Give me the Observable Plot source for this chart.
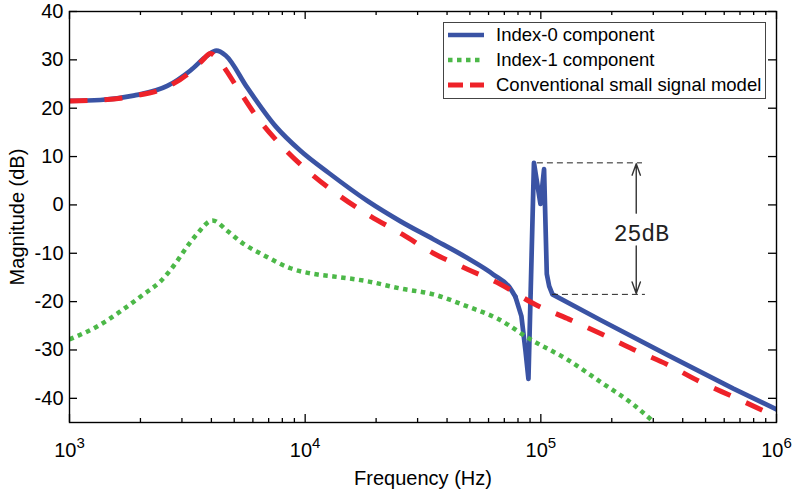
<!DOCTYPE html>
<html><head><meta charset="utf-8">
<script src="https://cdn.jsdelivr.net/npm/d3@7"></script>
<script src="https://cdn.jsdelivr.net/npm/@observablehq/plot@0.6"></script>
<style>
body{margin:0;background:#fff}
svg{font-family:"Liberation Sans",Arial,Helvetica,sans-serif}
</style>
</head><body><div id="chart"></div>
<script>
// ---- data ----
// Index-0 component: smooth part (up to 78 kHz) and resonance / high-frequency part
const idx0Freq = [1000, 1350, 1870, 2600, 3260, 3850, 4200, 4600, 5670, 7480, 9550, 12600, 18400, 25400, 35000, 48800, 62900, 74300, 78000, 82700, 86000, 88600, 93500, 99600, 103200, 106000, 108500, 112000, 179000, 344000, 656000, 1000000];
const idx0Mag  = [21.5, 21.7, 22.6, 24.6, 27.8, 30.9, 31.9, 30.9, 24.3, 16.3, 11.2, 6.6, 0.8, -3.4, -7.1, -11.0, -14.4, -17.3, -19.0, -23.0, -30.0, -36.0, 8.7, 0.2, 7.4, -14.3, -16.8, -18.5, -23.8, -31.0, -38.0, -42.3];
const idx0SmoothEnd = 78000;

const idx1Freq = [1000, 1315, 1646, 2061, 2433, 2817, 3167, 3492, 4043, 4680, 5420, 6790, 8660, 11280, 13200, 18400, 25400, 35000, 48800, 65400, 90300, 129700, 179000, 247000, 303000];
const idx1Mag  = [-27.8, -25.1, -22.0, -18.5, -15.8, -12.1, -8.5, -5.9, -3.2, -5.4, -7.9, -10.6, -13.1, -14.4, -14.8, -15.8, -17.3, -18.5, -21.0, -23.5, -27.8, -32.0, -36.6, -41.3, -45.0];

const convFreq = [1000, 1350, 1870, 2600, 3260, 3650, 3965, 4370, 5160, 6280, 8090, 10500, 13700, 18900, 25900, 35000, 48800, 67400, 93000, 129700, 179000, 247000, 344000, 475000, 656000, 1000000];
const convMag  = [21.5, 21.7, 22.5, 24.4, 27.5, 29.8, 31.3, 29.4, 24.2, 18.0, 11.8, 6.6, 2.2, -2.3, -6.1, -10.0, -13.3, -16.4, -20.4, -23.5, -26.6, -29.9, -33.0, -36.6, -39.7, -43.8];

const seriesNames = ["Index-0 component", "Index-1 component", "Conventional small signal model"];
const seriesColors = ["#3a53a4", "#4cb848", "#ee2229"];

const xMajorTicks = [1e3, 1e4, 1e5, 1e6];
const xMinorTicks = [2e3,3e3,4e3,5e3,6e3,7e3,8e3,9e3, 2e4,3e4,4e4,5e4,6e4,7e4,8e4,9e4, 2e5,3e5,4e5,5e5,6e5,7e5,8e5,9e5];
const yTicks = [-40, -30, -20, -10, 0, 10, 20, 30, 40];
const xLabel = "Frequency (Hz)";
const yLabel = "Magnitude (dB)";

// 25 dB annotation
const annTopFreq = [96700, 270000];   const annTopMag = 8.7;
const annBotFreq = [112000, 277800];  const annBotMag = -18.5;
const annArrowFreq = 254000;
const annArrowTop = [-1.7, 8.5];
const annArrowBot = [-8.5, -18.3];
const annText = "25dB"; const annTextFreq = 267000; const annTextMag = -6.0;

// ---- layout ----
const W = 793, H = 494, mL = 69, mR = 17, mT = 11, mB = 72;
const pw = W - mL - mR, ph = H - mT - mB;

const toRows = (f, m) => f.map((v, i) => ({f: v, m: m[i]}));
const idx0 = toRows(idx0Freq, idx0Mag);
const idx0Smooth = idx0.filter(d => d.f <= idx0SmoothEnd);
const idx0Sharp = idx0.filter(d => d.f >= idx0SmoothEnd);
const idx1 = toRows(idx1Freq, idx1Mag);
const conv = toRows(convFreq, convMag);

const tickW = 1.3;
const chart = Plot.plot({
  width: W, height: H,
  marginLeft: mL, marginRight: mR, marginTop: mT, marginBottom: mB,
  style: {fontFamily: "Liberation Sans, Arial, Helvetica, sans-serif", fontSize: "20px", background: "white", color: "black"},
  x: {type: "log", domain: [1e3, 1e6]},
  y: {domain: [-45, 40]},
  marks: [
    Plot.axisX(xMajorTicks, {tickSize: 0, tickPadding: 20, tickFormat: d => "10|" + Math.round(Math.log10(d)),
      label: xLabel, labelAnchor: "center", labelOffset: 62, labelArrow: "none"}),
    Plot.axisY(yTicks, {tickSize: 0, tickPadding: 6, tickFormat: d => String(d),
      label: yLabel, labelAnchor: "center", labelOffset: 60, labelArrow: "none"}),
    // inward ticks on all four sides
    Plot.ruleY(yTicks, {y: d => d, insetRight: pw - 8, stroke: "black", strokeWidth: tickW}),
    Plot.ruleY(yTicks, {y: d => d, insetLeft: pw - 8, stroke: "black", strokeWidth: tickW}),
    Plot.ruleX(xMajorTicks, {x: d => d, insetTop: ph - 8, stroke: "black", strokeWidth: tickW}),
    Plot.ruleX(xMajorTicks, {x: d => d, insetBottom: ph - 8, stroke: "black", strokeWidth: tickW}),
    Plot.ruleX(xMinorTicks, {x: d => d, insetTop: ph - 4, stroke: "black", strokeWidth: tickW}),
    Plot.ruleX(xMinorTicks, {x: d => d, insetBottom: ph - 4, stroke: "black", strokeWidth: tickW}),
    // curves
    Plot.line(idx0Smooth, {x: "f", y: "m", stroke: seriesColors[0], strokeWidth: 4.7, curve: "monotone-x", clip: true}),
    Plot.line(idx0Sharp, {x: "f", y: "m", stroke: seriesColors[0], strokeWidth: 4.7, curve: "linear", clip: true}),
    Plot.line(idx1, {x: "f", y: "m", stroke: seriesColors[1], strokeWidth: 4.5, strokeDasharray: "4.5,4.5", strokeLinecap: "butt", curve: "monotone-x", clip: true}),
    Plot.line(conv, {x: "f", y: "m", stroke: seriesColors[2], strokeWidth: 5, strokeDasharray: "18,17", strokeLinecap: "butt", curve: "monotone-x", clip: true}),
    // annotation
    Plot.ruleY([annTopMag], {x1: annTopFreq[0], x2: annTopFreq[1], stroke: "#222", strokeWidth: 1, strokeDasharray: "6,4"}),
    Plot.ruleY([annBotMag], {x1: annBotFreq[0], x2: annBotFreq[1], stroke: "#222", strokeWidth: 1, strokeDasharray: "6,4"}),
    Plot.arrow([{y1: annArrowTop[0], y2: annArrowTop[1]}, {y1: annArrowBot[0], y2: annArrowBot[1]}],
      {x1: annArrowFreq, x2: annArrowFreq, y1: "y1", y2: "y2", stroke: "#333", strokeWidth: 1.4, headLength: 13, headAngle: 40}),
    Plot.text([annText], {x: annTextFreq, y: annTextMag, text: d => d, fontSize: 23, fill: "#222"}),
    Plot.frame({stroke: "black", strokeWidth: 1.4})
  ]
});

document.getElementById("chart").appendChild(chart);
const svg = d3.select(chart);

// strip any label arrows (older Plot versions)
svg.selectAll('[aria-label="x-axis label"] text, [aria-label="y-axis label"] text').each(function() {
  this.textContent = this.textContent.replace(/\s*[→↑←↓]\s*/g, "").trim();
});

// monospaced (Courier-like) annotation text
svg.selectAll("text").filter(function() { return this.textContent === annText; })
  .attr("font-family", null)
  .style("font-family", "'Courier New','Liberation Mono','Nimbus Mono PS','Nimbus Mono L',Courier,FreeMono,'DejaVu Sans Mono',monospace");

// superscript exponents on x tick labels
svg.selectAll('[aria-label="x-axis tick label"] text').each(function() {
  const parts = this.textContent.split("|");
  if (parts.length !== 2) return;
  this.textContent = "";
  d3.select(this).append("tspan").text(parts[0]);
  d3.select(this).append("tspan").attr("dy", "-9").attr("font-size", "15px").text(parts[1]);
});

// legend (inside the plot, top right)
const lg = svg.append("g").attr("font-size", "18.5px").attr("text-anchor", "start");
lg.append("rect").attr("x", 443.5).attr("y", 22.5).attr("width", 322).attr("height", 76)
  .attr("fill", "white").attr("stroke", "#444").attr("stroke-width", 1);
const legendStyles = [
  {w: 4.7, dash: null},
  {w: 4.5, dash: "4.5,4.5"},
  {w: 5, dash: "15,7"}
];
seriesNames.forEach((name, i) => {
  const cy = 35 + i * 25;
  lg.append("line").attr("x1", 448).attr("x2", 484).attr("y1", cy).attr("y2", cy)
    .attr("stroke", seriesColors[i]).attr("stroke-width", legendStyles[i].w)
    .attr("stroke-dasharray", legendStyles[i].dash);
  lg.append("text").attr("x", 496).attr("y", cy).attr("dy", "0.35em")
    .attr("text-anchor", "start").attr("fill", "black").text(name);
});
</script>
</body></html>
